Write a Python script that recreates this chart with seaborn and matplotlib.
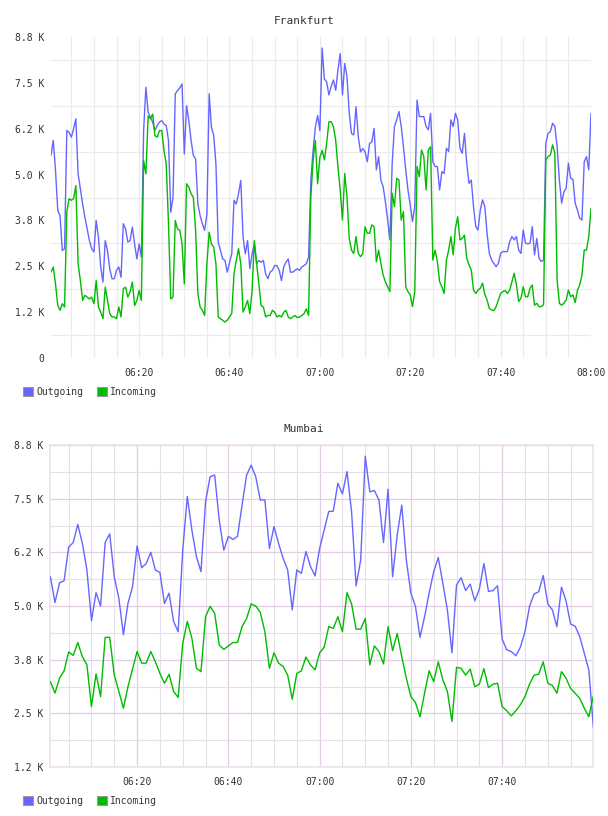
import numpy as np
import pandas as pd
import matplotlib
matplotlib.use("Agg")
import matplotlib.pyplot as plt
import matplotlib.dates as mdates
from matplotlib.patches import Patch
from matplotlib.ticker import FixedLocator
import seaborn as sns

# series
series_names = ["Outgoing", "Incoming"]
series_colors = ["#6666FF", "#00BB00"]

# Frankfurt: one sample every 30 s, 06:00:30 .. 08:00
fk_times = pd.date_range("2024-01-01 06:00:30", "2024-01-01 08:00:00", freq="30s")
fk_out = [
    5520, 5930, 5110, 4020, 3880, 2930, 2980, 6200, 6150, 6020,
    6245, 6520, 5020, 4610, 4200, 3840, 3520, 3200, 2980, 2890,
    3750, 3300, 2480, 2070, 3200, 2930, 2430, 2160, 2160, 2390,
    2480, 2200, 3660, 3520, 3160, 3200, 3570, 3110, 2700, 3110,
    2750, 6200, 7380, 6700, 6560, 6430, 6200, 6340, 6430, 6470,
    6380, 6340, 5930, 3975, 4380, 7200, 7290, 7360, 7470, 5560,
    6880, 6470, 5930, 5520, 5430, 4200, 3880, 3660, 3480, 3930,
    7200, 6290, 6070, 5290, 3160, 2930, 2700, 2660, 2340, 2600,
    2840, 4300, 4200, 4480, 4840, 3300, 2840, 3200, 2440, 2840,
    3110, 2570, 2660, 2610, 2660, 2290, 2160, 2340, 2390, 2520,
    2520, 2390, 2110, 2480, 2610, 2700, 2340, 2340, 2390, 2430,
    2390, 2480, 2520, 2570, 2750, 4840, 5660, 6290, 6610, 6200,
    8450, 7600, 7530, 7170, 7400, 7580, 7300, 7850, 8300, 7170,
    8030, 7670, 6670, 6120, 6080, 6850, 6030, 5620, 5710, 5620,
    5350, 5850, 5890, 6260, 5130, 5490, 4850, 4670, 4260, 3760,
    3220, 5300, 6310, 6490, 6720, 6310, 5760, 5130, 4580, 4170,
    3720, 4130, 7030, 6580, 6580, 6580, 6310, 6220, 6670, 5350,
    5220, 5220, 4580, 5080, 5030, 5720, 5630, 6490, 6310, 6670,
    6490, 5720, 5580, 6120, 5310, 4760, 4850, 4130, 3580, 3490,
    4030, 4310, 4130, 3400, 2850, 2670, 2580, 2490, 2580, 2850,
    2900, 2900, 2900, 3170, 3310, 3220, 3310, 2940, 2850, 3490,
    3130, 3110, 3130, 3580, 2810, 3260, 2720, 2630, 2670, 5850,
    6120, 6170, 6400, 6310, 5760, 4850, 4220, 4530, 4630, 5310,
    4900, 4870, 4220, 4030, 3810, 3760, 5350, 5490, 5130, 6670,
]
fk_in = [
    2340, 2480, 2020, 1430, 1300, 1480, 1390, 3980, 4340, 4300,
    4340, 4700, 2570, 2110, 1570, 1710, 1660, 1610, 1660, 1480,
    2110, 1390, 1250, 1070, 1930, 1570, 1210, 1120, 1120, 1070,
    1390, 1120, 1890, 1930, 1660, 1800, 2070, 1430, 1570, 1840,
    1570, 5380, 5020, 6600, 6520, 6650, 6060, 6020, 6200, 6200,
    5660, 5290, 3660, 1610, 1660, 3750, 3520, 3480, 3110, 2020,
    4750, 4660, 4480, 4380, 3480, 1750, 1390, 1300, 1160, 2570,
    3430, 3110, 3020, 2570, 1120, 1070, 1030, 980, 1030, 1120,
    1210, 2290, 2660, 2980, 2570, 1250, 1390, 1570, 1210, 1840,
    3200, 2570, 2020, 1430, 1390, 1120, 1160, 1160, 1300, 1250,
    1120, 1160, 1120, 1250, 1300, 1120, 1070, 1120, 1160, 1100,
    1120, 1160, 1210, 1340, 1160, 4380, 5380, 5930, 4750, 5470,
    5660, 5400, 5850, 6440, 6440, 6310, 5940, 5210, 4580, 3760,
    5030, 4400, 3260, 2940, 2850, 3310, 2850, 2760, 2850, 3580,
    3400, 3400, 3630, 3580, 2620, 2940, 2580, 2260, 2080, 1940,
    1810, 4490, 4130, 4900, 4850, 3760, 3990, 1940, 1810, 1720,
    1400, 1810, 5220, 4940, 5670, 5490, 4580, 5670, 5760, 2670,
    2940, 2630, 2080, 1940, 1760, 2670, 2940, 3310, 2810, 3540,
    3850, 3220, 3260, 3350, 2720, 2540, 2400, 1850, 1760, 1850,
    1900, 2040, 1740, 1580, 1350, 1310, 1290, 1400, 1580, 1760,
    1810, 1840, 1760, 1850, 2080, 2310, 1990, 1540, 1630, 1940,
    1670, 1670, 1900, 1990, 1440, 1490, 1400, 1400, 1450, 5400,
    5490, 5530, 5810, 5580, 2130, 1490, 1440, 1490, 1580, 1850,
    1670, 1720, 1510, 1850, 1990, 2260, 2940, 2940, 3310, 4080,
]

# Mumbai: one sample per minute, 06:01 .. 08:00
mb_times = pd.date_range("2024-01-01 06:01", "2024-01-01 08:00", freq="1min")
mb_out = [
    5680, 5080, 5540, 5590, 6370, 6480, 6900, 6460, 5840, 4660,
    5310, 5000, 6480, 6680, 5680, 5180, 4330, 5060, 5450, 6400,
    5890, 5990, 6250, 5840, 5780, 5060, 5300, 4640, 4400, 6300,
    7550, 6770, 6150, 5800, 7430, 8010, 8050, 7000, 6300, 6620,
    6550, 6620, 7350, 8050, 8280, 8010, 7470, 7470, 6340, 6850,
    6460, 6110, 5840, 4910, 5840, 5760, 6270, 5920, 5700, 6340,
    6770, 7200, 7210, 7860, 7610, 8130, 7200, 5470, 6070, 8490,
    7660, 7690, 7470, 6480, 7720, 5680, 6650, 7350, 6070, 5300,
    4990, 4270, 4750, 5300, 5800, 6130, 5530, 4910, 3910, 5490,
    5660, 5360, 5510, 5120, 5390, 5990, 5340, 5360, 5470, 4230,
    3980, 3940, 3840, 4040, 4400, 4990, 5280, 5330, 5710, 5050,
    4910, 4520, 5440, 5120, 4580, 4530, 4290, 3900, 3510, 2170,
]
mb_in = [
    3240, 2970, 3320, 3490, 3930, 3850, 4150, 3820, 3630, 2660,
    3420, 2890, 4270, 4270, 3390, 3010, 2620, 3120, 3530, 3940,
    3670, 3670, 3940, 3700, 3430, 3200, 3410, 3010, 2870, 4130,
    4640, 4250, 3550, 3470, 4750, 4990, 4830, 4090, 3990, 4070,
    4150, 4150, 4520, 4710, 5050, 5000, 4850, 4400, 3550, 3910,
    3670, 3590, 3390, 2830, 3430, 3490, 3810, 3630, 3510, 3910,
    4040, 4520, 4480, 4750, 4400, 5310, 5050, 4460, 4460, 4710,
    3630, 4070, 3940, 3650, 4520, 3960, 4360, 3820, 3320, 2890,
    2750, 2420, 2970, 3490, 3240, 3700, 3280, 3010, 2310, 3570,
    3550, 3390, 3530, 3120, 3180, 3540, 3100, 3180, 3200, 2660,
    2560, 2440, 2560, 2700, 2890, 3180, 3390, 3410, 3700, 3200,
    3150, 2970, 3470, 3320, 3080, 2970, 2850, 2620, 2420, 2910,
]

fk_yticks = [0, 1250, 2500, 3750, 5000, 6250, 7500, 8750]
fk_ylabels = ["0", "1.2 K", "2.5 K", "3.8 K", "5.0 K", "6.2 K", "7.5 K", "8.8 K"]
mb_yticks = [1250, 2500, 3750, 5000, 6250, 7500, 8750]
mb_ylabels = ["1.2 K", "2.5 K", "3.8 K", "5.0 K", "6.2 K", "7.5 K", "8.8 K"]

TEXT = "#333333"


def make_frame(times, outgoing, incoming):
    return pd.DataFrame({
        "time": list(times) + list(times),
        "value": outgoing + incoming,
        "series": [series_names[0]] * len(outgoing) + [series_names[1]] * len(incoming),
    })


def draw_panel(ax, df, yticks, ylabels, xmin, xmax, show_last_tick, pink):
    sns.lineplot(data=df, x="time", y="value", hue="series", hue_order=series_names,
                 palette=series_colors, linewidth=1.0, estimator=None, legend=False,
                 ax=ax, zorder=3)
    ax.set_xlim(pd.Timestamp(xmin), pd.Timestamp(xmax))
    ax.set_ylim(yticks[0], yticks[-1])

    ax.yaxis.set_major_locator(FixedLocator(yticks))
    ax.set_yticklabels(ylabels)
    ax.yaxis.set_minor_locator(FixedLocator([v + 625 for v in yticks[:-1]]))

    ax.xaxis.set_major_locator(mdates.MinuteLocator(byminute=[0, 20, 40]))
    ax.xaxis.set_major_formatter(mdates.DateFormatter("%H:%M"))
    ax.xaxis.set_minor_locator(mdates.MinuteLocator(byminute=range(0, 60, 5)))
    ax.set_xlabel("")
    ax.set_ylabel("")

    ax.tick_params(which="both", length=0, colors=TEXT, labelsize=7)
    ax.tick_params(axis="x", pad=7.5)
    ax.tick_params(axis="y", pad=5)

    if pink:
        ax.grid(which="major", color="#E2CEE2", linewidth=0.9, zorder=1)
        ax.grid(which="minor", color="#E6DFE6", linewidth=0.8, zorder=1)
        for s in ax.spines.values():
            s.set_visible(True)
            s.set_color("#EEE0EE")
            s.set_linewidth(1.2)
    else:
        ax.grid(which="minor", color="#EBEBEB", linewidth=0.9, zorder=1)
        ax.grid(which="major", axis="x", color="#EBEBEB", linewidth=0.9, zorder=1)
        ax.grid(which="major", axis="y", visible=False)
        for s in ax.spines.values():
            s.set_visible(False)

    if not show_last_tick:
        labels = [t for t in ax.get_xticks() if t < mdates.date2num(pd.Timestamp(xmax))]
        ax.set_xticks(labels)
        ax.xaxis.set_major_formatter(mdates.DateFormatter("%H:%M"))


def add_legend(fig, y_px):
    handles = [Patch(facecolor=c, edgecolor="#999999", linewidth=0.8) for c in series_colors]
    fig.legend(handles, series_names, loc="center left",
               bbox_to_anchor=(23 / 608, 1 - y_px / 816), ncol=2, frameon=False,
               handlelength=1.0, handleheight=1.0, handletextpad=0.35,
               columnspacing=1.45, borderaxespad=0, borderpad=0,
               prop={"family": "DejaVu Sans Mono", "size": 7}, labelcolor=TEXT)


def main():
    sns.set_style("white")
    plt.rcParams["font.family"] = ["DejaVu Sans Mono", "DejaVu Sans"]

    fig = plt.figure(figsize=(6.08, 8.16), dpi=100)
    ax1 = fig.add_axes([51 / 608, 1 - 358 / 816, 540 / 608, 321 / 816])
    ax2 = fig.add_axes([50.4 / 608, 1 - 767 / 816, 543 / 608, 322 / 816])

    draw_panel(ax1, make_frame(fk_times, fk_out, fk_in), fk_yticks, fk_ylabels,
               "2024-01-01 06:00:30", "2024-01-01 08:00:00", True, False)
    draw_panel(ax2, make_frame(mb_times, mb_out, mb_in), mb_yticks, mb_ylabels,
               "2024-01-01 06:01:00", "2024-01-01 08:00:00", False, True)

    fig.text(0.5, 1 - 20.5 / 816, "Frankfurt", ha="center", va="center",
             fontsize=8, color=TEXT)
    fig.text(0.5, 1 - 429 / 816, "Mumbai", ha="center", va="center",
             fontsize=8, color=TEXT)

    add_legend(fig, 392)
    add_legend(fig, 801)

    fig.savefig("out.png", dpi=100, facecolor="white")
    plt.close(fig)


if __name__ == "__main__":
    main()
